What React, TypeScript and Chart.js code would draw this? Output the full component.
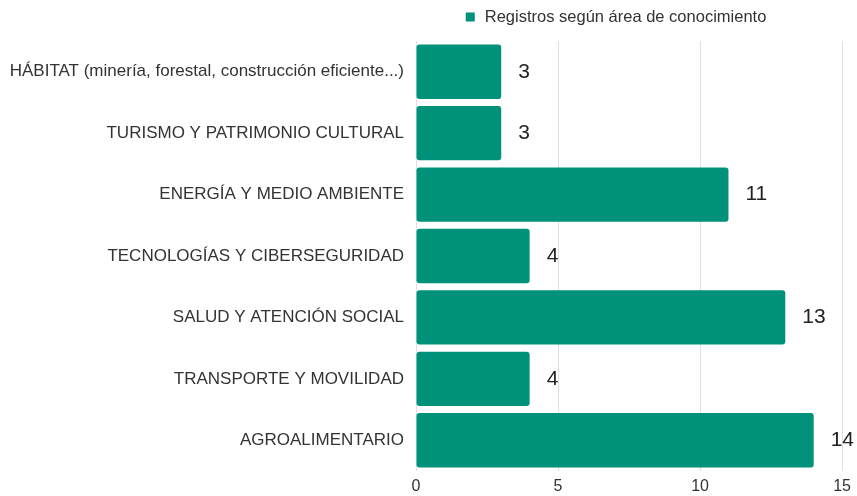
import React, { useEffect, useRef } from "react";
import { Chart, registerables } from "chart.js";

Chart.register(...registerables);

const categories = [
  "HÁBITAT (minería, forestal, construcción eficiente...)",
  "TURISMO Y PATRIMONIO CULTURAL",
  "ENERGÍA Y MEDIO AMBIENTE",
  "TECNOLOGÍAS Y CIBERSEGURIDAD",
  "SALUD Y ATENCIÓN SOCIAL",
  "TRANSPORTE Y MOVILIDAD",
  "AGROALIMENTARIO",
];
const values = [3, 3, 11, 4, 13, 4, 14];
const seriesLabel = "Registros según área de conocimiento";
const barColor = "#00917a";
const FONT = "'Liberation Sans', Arial, sans-serif";

const valueLabels = {
  id: "valueLabels",
  afterDatasetsDraw(chart: any) {
    const ctx = chart.ctx;
    const meta = chart.getDatasetMeta(0);
    ctx.save();
    ctx.font = `21px ${FONT}`;
    ctx.fillStyle = "#222222";
    ctx.textAlign = "left";
    ctx.textBaseline = "middle";
    meta.data.forEach((bar: any, i: number) => {
      ctx.fillText(String(values[i]), bar.x + 17, bar.y);
    });
    ctx.restore();
  },
};

const customLegend = {
  id: "customLegend",
  afterDraw(chart: any) {
    const ctx = chart.ctx;
    const area = chart.chartArea;
    ctx.save();
    ctx.font = `16.5px ${FONT}`;
    const tw = ctx.measureText(seriesLabel).width;
    const total = 9 + 10 + tw;
    const cx = (area.left + area.right) / 2 - 13;
    const x0 = cx - total / 2;
    const y = 17;
    ctx.fillStyle = barColor;
    ctx.fillRect(x0, y - 4.5, 9, 9);
    ctx.fillStyle = "#333333";
    ctx.textAlign = "left";
    ctx.textBaseline = "middle";
    ctx.fillText(seriesLabel, x0 + 19, y);
    ctx.restore();
  },
};

export default function App() {
  const ref = useRef<HTMLCanvasElement>(null);
  useEffect(() => {
    if (!ref.current) return;
    const chart = new Chart(ref.current, {
      type: "bar",
      data: {
        labels: categories,
        datasets: [
          {
            label: seriesLabel,
            data: values,
            backgroundColor: barColor,
            borderRadius: 3,
            borderSkipped: false,
            categoryPercentage: 1,
            barPercentage: 0.885,
          },
        ],
      },
      options: {
        indexAxis: "y",
        animation: false,
        responsive: true,
        maintainAspectRatio: false,
        layout: { padding: { top: 41, right: 14, left: 10, bottom: 0 } },
        plugins: {
          legend: { display: false },
          tooltip: { enabled: false },
        },
        scales: {
          x: {
            min: 0,
            max: 15,
            afterFit(scale: any) {
              scale.height = 25;
            },
            ticks: { stepSize: 5, color: "#333333", font: { family: FONT, size: 16 }, padding: 6 },
            grid: { color: "#e0e0e0", drawTicks: false },
            border: { display: false },
          },
          y: {
            afterFit(scale: any) {
              scale.width = 406;
            },
            ticks: { color: "#333333", font: { family: FONT, size: 17 }, padding: 12 },
            grid: { display: false, drawTicks: false },
            border: { display: false },
          },
        },
      },
      plugins: [valueLabels, customLegend],
    });
    return () => chart.destroy();
  }, []);
  return (
    <div style={{ position: "fixed", left: 0, top: 0, width: 857, height: 496, background: "#fff" }}>
      <canvas ref={ref} />
    </div>
  );
}
